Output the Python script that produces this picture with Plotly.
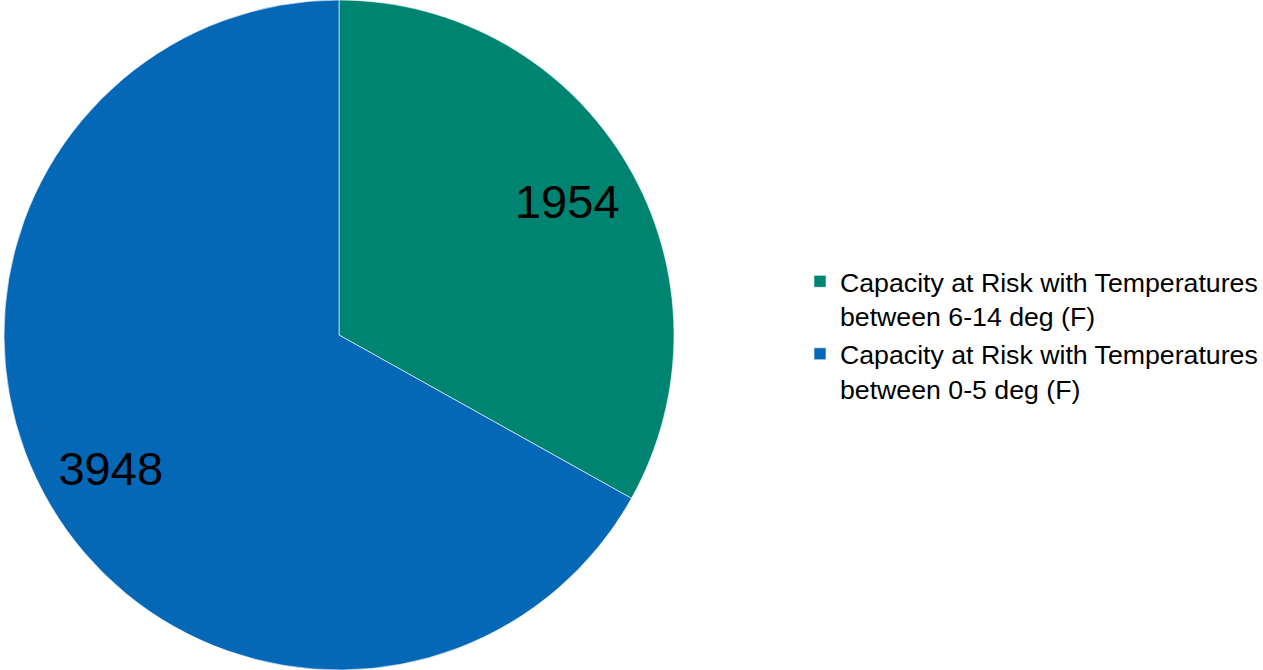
import plotly.graph_objects as go

labels = ["Capacity at Risk with Temperatures<br>between 6-14 deg (F)",
          "Capacity at Risk with Temperatures<br>between 0-5 deg (F)"]
values = [1954, 3948]
colors = ["#008472", "#0568B7"]

domain = dict(x=[4/1263, 674/1263], y=[0, 1])
font_family = "Liberation Sans, Arial, sans-serif"

fig = go.Figure()
# main pie (colours + legend)
fig.add_trace(go.Pie(
    labels=labels,
    values=values,
    sort=False,
    direction="clockwise",
    rotation=0,
    marker=dict(colors=colors, line=dict(color="rgba(255,255,255,0.6)", width=1)),
    textinfo="none",
    domain=domain,
    hoverinfo="label+value",
))
# transparent ring overlay carrying the data labels further out
fig.add_trace(go.Pie(
    labels=labels,
    values=values,
    sort=False,
    direction="clockwise",
    rotation=0,
    hole=0.58,
    marker=dict(colors=["rgba(0,0,0,0)", "rgba(0,0,0,0)"], line=dict(width=0)),
    textinfo="value",
    textposition="inside",
    insidetextorientation="horizontal",
    textfont=dict(family=font_family, size=47, color="black"),
    domain=domain,
    showlegend=False,
    hoverinfo="skip",
))

fig.update_layout(
    width=1263, height=670,
    margin=dict(l=0, r=0, t=0, b=0),
    paper_bgcolor="white",
    plot_bgcolor="white",
    showlegend=True,
    legend=dict(
        x=800/1263, xanchor="left", y=0.5, yanchor="middle",
        font=dict(family=font_family, size=26.7, color="black"),
        tracegroupgap=14,
        valign="top",
    ),
)

fig.write_html("out.html", config={"displayModeBar": False},
               post_script="document.body.style.margin='0';")
